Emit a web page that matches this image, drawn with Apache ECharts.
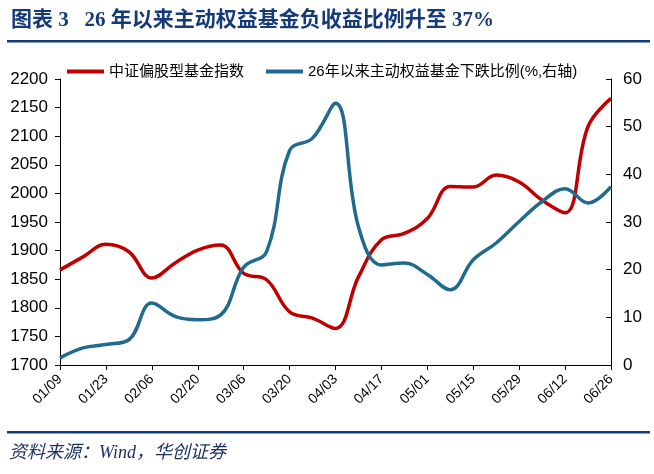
<!DOCTYPE html>
<html>
<head>
<meta charset="utf-8">
<script src="https://cdn.jsdelivr.net/npm/echarts@6/dist/echarts.min.js"></script>
<style>
  html, body { margin: 0; padding: 0; background: #fff; }
  #main { width: 654px; height: 474px; }
</style>
</head>
<body>
<div id="main"></div>
<script>
// 周度日期（每两周显示一个标签）
var dates = ["01/09", "01/16", "01/23", "01/30", "02/06", "02/13", "02/20", "02/27",
  "03/06", "03/13", "03/20", "03/27", "04/03", "04/10", "04/17", "04/24",
  "05/01", "05/08", "05/15", "05/22", "05/29", "06/05", "06/12", "06/19", "06/26"];

// 中证偏股型基金指数（左轴）
var fundIndex = [1866, 1889, 1911, 1898, 1852, 1878, 1901, 1910,
  1860, 1849, 1793, 1782, 1764, 1854, 1919, 1930,
  1956, 2012, 2011, 2032, 2020, 1988, 1966, 2117, 2166];

// 26年以来主动权益基金下跌比例（%，右轴）
var downRatio = [1.5, 3.6, 4.3, 5.3, 13.0, 10.2, 9.5, 10.5,
  20.5, 23.8, 45, 47.6, 54.9, 29, 21, 21.4,
  19, 15.8, 22.1, 25.6, 30.1, 34.3, 37.0, 34, 37.4];

var leftTicks = { min: 1700, max: 2200, interval: 50 };
var rightTicks = { min: 0, max: 60, interval: 10 };

var myChart = echarts.init(document.getElementById("main"));

var option = {
  backgroundColor: "#fff",
  animation: false,
  title: {
    text: "图表 3   26 年以来主动权益基金负收益比例升至 37%",
    left: 6,
    top: 5,
    textStyle: {
      fontFamily: "Liberation Serif, Noto Sans CJK SC",
      fontWeight: "bold",
      fontSize: 21,
      color: "#153a78"
    }
  },
  graphic: [
    {
      type: "rect",
      shape: { x: 7, y: 40, width: 643, height: 2.5 },
      style: { fill: "#0e3c7c" }
    },
    {
      type: "rect",
      shape: { x: 7, y: 431, width: 643, height: 2.5 },
      style: { fill: "#0e3c7c" }
    },
    {
      type: "text",
      left: 9,
      top: 444,
      style: {
        text: "资料来源：Wind，华创证券",
        font: "italic 18px 'Liberation Serif', 'Noto Sans CJK SC'",
        fill: "#1c2f5c"
      }
    }
  ],
  legend: {
    left: 62,
    top: 59,
    itemWidth: 37,
    itemHeight: 4,
    itemGap: 22,
    icon: "rect",
    textStyle: {
      fontFamily: "Liberation Sans, Noto Sans CJK SC",
      fontSize: 15,
      color: "#000"
    },
    data: ["中证偏股型基金指数", "26年以来主动权益基金下跌比例(%,右轴)"]
  },
  grid: {
    left: 60,
    right: 43,
    top: 79,
    bottom: 109
  },
  xAxis: {
    type: "category",
    data: dates,
    boundaryGap: false,
    axisLine: { lineStyle: { color: "#000", width: 1 } },
    axisTick: { interval: 1, length: 5, lineStyle: { color: "#000" } },
    axisLabel: {
      interval: 1,
      rotate: 45,
      fontFamily: "Liberation Sans",
      fontSize: 14,
      color: "#000",
      margin: 12
    },
    splitLine: { show: false }
  },
  yAxis: [
    {
      type: "value",
      min: leftTicks.min,
      max: leftTicks.max,
      interval: leftTicks.interval,
      axisLine: { show: true, lineStyle: { color: "#000" } },
      axisTick: { show: true, length: 5, lineStyle: { color: "#000" } },
      axisLabel: {
        fontFamily: "Liberation Sans", fontSize: 17, color: "#000", margin: 12,
        formatter: function (v) { return String(v); }
      },
      splitLine: { show: false }
    },
    {
      type: "value",
      min: rightTicks.min,
      max: rightTicks.max,
      interval: rightTicks.interval,
      axisLine: { show: true, lineStyle: { color: "#000" } },
      axisTick: { show: true, inside: true, length: 5, lineStyle: { color: "#000" } },
      axisLabel: { fontFamily: "Liberation Sans", fontSize: 17, color: "#000", margin: 12 },
      splitLine: { show: false }
    }
  ],
  series: [
    {
      name: "中证偏股型基金指数",
      type: "line",
      data: fundIndex,
      yAxisIndex: 0,
      smooth: 0.4,
      showSymbol: false,
      color: "#c00000",
      lineStyle: { width: 3.5, color: "#c00000" }
    },
    {
      name: "26年以来主动权益基金下跌比例(%,右轴)",
      type: "line",
      data: downRatio,
      yAxisIndex: 1,
      smooth: 0.4,
      showSymbol: false,
      color: "#1f6a8e",
      lineStyle: { width: 3.5, color: "#1f6a8e" }
    }
  ]
};

myChart.setOption(option);
</script>
</body>
</html>
